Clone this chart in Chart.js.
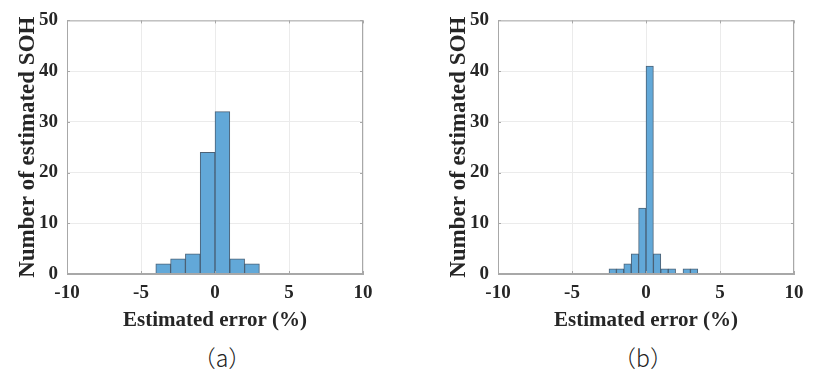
<!DOCTYPE html>
<html>
<head>
<meta charset="utf-8">
<script src="https://cdn.jsdelivr.net/npm/chart.js@4/dist/chart.umd.min.js"></script>
<style>
    body { margin: 0; background: #fff; }
    .panel { position: absolute; top: 0; width: 400px; height: 340px; }
    .caption {
        position: absolute; top: 340px; width: 100px; text-align: center;
        font-family: "Noto Sans CJK SC", sans-serif; font-size: 23px; font-weight: 300; color: #222;
    }
</style>
</head>
<body>
<div class="panel" style="left:0"><canvas id="histA" width="400" height="340"></canvas></div>
<div class="panel" style="left:431px"><canvas id="histB" width="400" height="340"></canvas></div>
<div class="caption" style="left:172px">（a）</div>
<div class="caption" style="left:593px">（b）</div>
<script>
// panel (a): bin width 1
const binCentersA = [-3.5, -2.5, -1.5, -0.5, 0.5, 1.5, 2.5];
const countsA = [2, 3, 4, 24, 32, 3, 2];
// panel (b): bin width 0.5
const binCentersB = [-2.25, -1.75, -1.25, -0.75, -0.25, 0.25, 0.75, 1.25, 1.75, 2.25, 2.75, 3.25];
const countsB = [1, 1, 2, 4, 13, 41, 4, 1, 1, 0, 1, 1];
const xTicks = [-10, -5, 0, 5, 10];
const yTicks = [0, 10, 20, 30, 40, 50];
const xTitle = "Estimated error (%)";
const yTitle = "Number of estimated SOH";

const tickFont = { family: "Liberation Serif", size: 19, weight: "bold" };
const textColor = "#262626";
const boxColor = "#a8a8a8";

// box around the plot plus small inner tick marks (MATLAB style)
const boxPlugin = {
    id: "box",
    afterDraw(chart) {
        const { ctx, chartArea: a, scales } = chart;
        ctx.save();
        ctx.strokeStyle = boxColor;
        ctx.lineWidth = 1;
        ctx.strokeRect(a.left + 0.5, a.top + 0.5, a.right - a.left - 1, a.bottom - a.top - 1);
        ctx.beginPath();
        scales.x.ticks.forEach((t) => {
            const px = Math.round(scales.x.getPixelForValue(t.value)) + 0.5;
            ctx.moveTo(px, a.bottom); ctx.lineTo(px, a.bottom - 3);
            ctx.moveTo(px, a.top); ctx.lineTo(px, a.top + 3);
        });
        scales.y.ticks.forEach((t) => {
            const py = Math.round(scales.y.getPixelForValue(t.value)) + 0.5;
            ctx.moveTo(a.left, py); ctx.lineTo(a.left + 3, py);
            ctx.moveTo(a.right, py); ctx.lineTo(a.right - 3, py);
        });
        ctx.stroke();
        ctx.restore();
    },
};

function makeHist(id, centers, counts) {
    new Chart(document.getElementById(id), {
        type: "bar",
        data: {
            datasets: [
                {
                    data: centers.map((c, i) => ({ x: c, y: counts[i] })),
                    backgroundColor: "#62a8d8",
                    borderColor: "rgba(45,70,95,0.85)",
                    borderWidth: 1,
                    barPercentage: 1,
                    categoryPercentage: 1,
                },
            ],
        },
        options: {
            responsive: false,
            animation: false,
            layout: { padding: { left: 10, right: 37, top: 20, bottom: 5 } },
            plugins: { legend: { display: false }, tooltip: { enabled: false } },
            scales: {
                x: {
                    type: "linear",
                    min: -10,
                    max: 10,
                    offset: false,
                    afterBuildTicks: (s) => { s.ticks = xTicks.map((v) => ({ value: v })); },
                    afterFit: (s) => { s.height = 61; },
                    grid: { color: "#ebebeb", drawTicks: false, offset: false },
                    border: { color: boxColor },
                    ticks: { font: tickFont, color: textColor, padding: 8, maxRotation: 0 },
                    title: {
                        display: true,
                        text: xTitle,
                        font: { family: "Liberation Serif", size: 21, weight: "bold" },
                        color: textColor,
                        padding: { top: 0, bottom: 2 },
                    },
                },
                y: {
                    min: 0,
                    max: 50,
                    afterBuildTicks: (s) => { s.ticks = yTicks.map((v) => ({ value: v })); },
                    afterFit: (s) => { s.width = 57; },
                    grid: { color: "#ebebeb", drawTicks: false },
                    border: { color: boxColor },
                    ticks: { font: tickFont, color: textColor, padding: 9 },
                    title: {
                        display: true,
                        text: yTitle,
                        font: { family: "Liberation Serif", size: 23, weight: "bold" },
                        color: textColor,
                        padding: { top: 4, bottom: 0 },
                    },
                },
            },
        },
        plugins: [boxPlugin],
    });
}

makeHist("histA", binCentersA, countsA);
makeHist("histB", binCentersB, countsB);
</script>
</body>
</html>
